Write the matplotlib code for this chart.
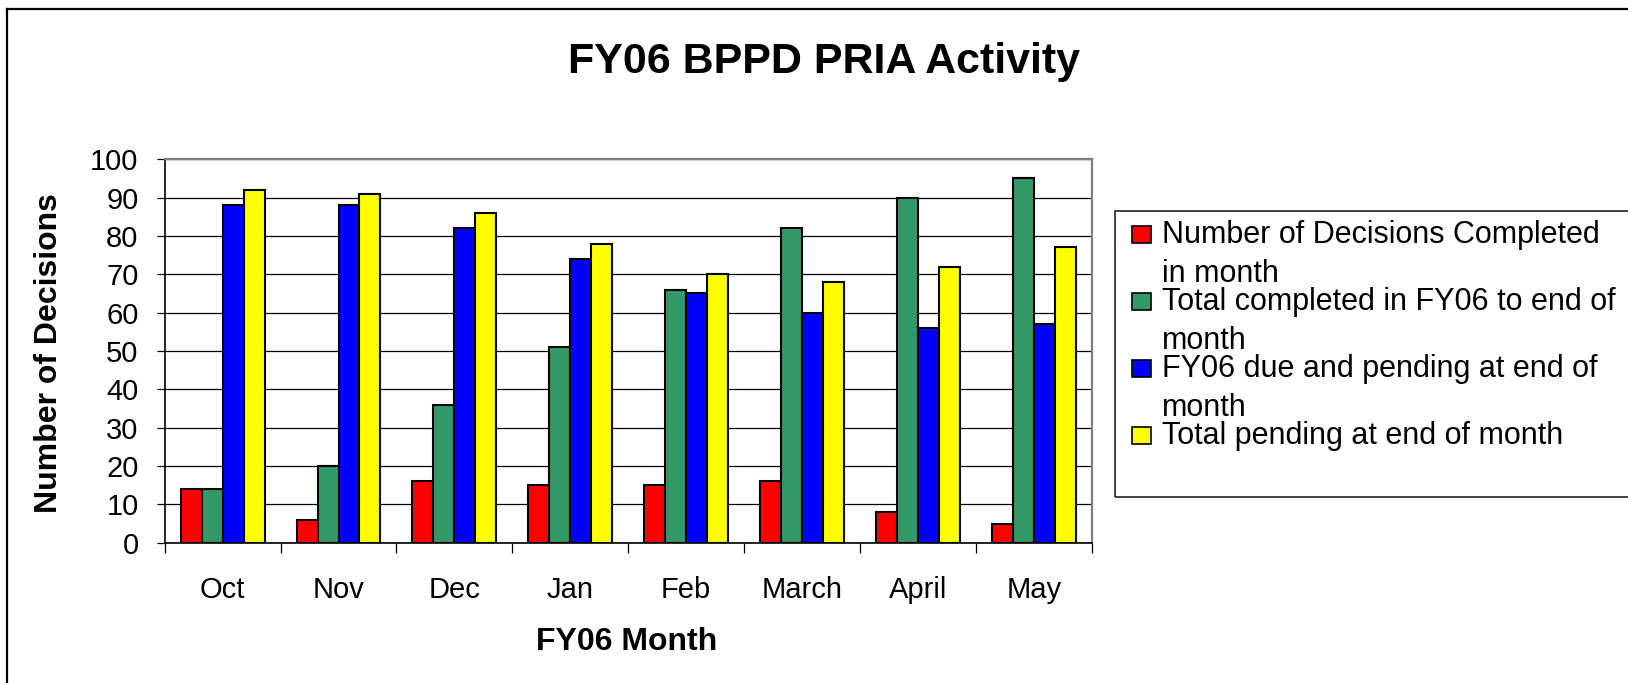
import matplotlib
matplotlib.use("Agg")
import matplotlib.pyplot as plt
from matplotlib.patches import Rectangle
from matplotlib.lines import Line2D
import numpy as np

plt.rcParams['font.family'] = ['Liberation Sans', 'DejaVu Sans']

months = ["Oct", "Nov", "Dec", "Jan", "Feb", "March", "April", "May"]
completed_in_month = [14, 6, 16, 15, 15, 16, 8, 5]
total_completed = [14, 20, 36, 51, 66, 82, 90, 95]
fy06_due_pending = [88, 88, 82, 74, 65, 60, 56, 57]
total_pending = [92, 91, 86, 78, 70, 68, 72, 77]

series_names = ["Number of Decisions Completed\nin month",
                "Total completed in FY06 to end of\nmonth",
                "FY06 due and pending at end of\nmonth",
                "Total pending at end of month"]
series_colors = ["#FF0000", "#339966", "#0000FF", "#FFFF00"]
series_values = [completed_in_month, total_completed, fy06_due_pending, total_pending]

W, H = 1628, 683
fig = plt.figure(figsize=(W / 100, H / 100), dpi=100)

def fx(x):
    return x / W

def fy(y):
    return 1 - y / H

# outer frame
fig.add_artist(Line2D([fx(7), fx(W + 5)], [fy(9), fy(9)], transform=fig.transFigure, color='black', lw=1.6))
fig.add_artist(Line2D([fx(7), fx(7)], [fy(9), fy(H + 5)], transform=fig.transFigure, color='black', lw=1.6))

left, right, top, bottom = 164.7, 1091.7, 159.3, 542.7
ax = fig.add_axes([fx(left), fy(bottom), fx(right - left), (bottom - top) / H])

x = np.arange(len(months))
w = 0.181
offsets = [-1.5, -0.5, 0.5, 1.5]
for vals, col, off, name in zip(series_values, series_colors, offsets, series_names):
    ax.bar(x + off * w, vals, width=w, color=col, edgecolor='black', linewidth=1.5, zorder=3, label=name)

ax.set_xlim(-0.5, len(months) - 0.5)
ax.set_ylim(0, 100)
ax.set_yticks(np.arange(0, 101, 10))
ax.yaxis.grid(True, color='black', lw=0.9)
ax.set_axisbelow(True)

ax.set_xticks(np.arange(-0.5, len(months), 1.0))
ax.set_xticklabels([])
ax.set_xticks(x, minor=True)
ax.set_xticklabels(months, minor=True, fontsize=21)
ax.tick_params(axis='x', which='major', direction='out', length=7, width=0.9, color='black')
ax.tick_params(axis='x', which='minor', length=0, pad=24)
ax.tick_params(axis='y', direction='out', length=5.8, width=0.9, pad=13, labelsize=21)

for s in ['left', 'bottom']:
    ax.spines[s].set_color('black')
    ax.spines[s].set_linewidth(1.2)
for s in ['top', 'right']:
    ax.spines[s].set_color('#808080')
    ax.spines[s].set_linewidth(1.6)

fig.text(0.506, fy(62), "FY06 BPPD PRIA Activity", fontsize=31, fontweight='bold', ha='center', va='center')
fig.text(fx(49), fy(353), "Number of Decisions", fontsize=23, fontweight='bold', rotation=90, ha='center', va='center')
fig.text(fx(627), fy(642), "FY06 Month", fontsize=23, fontweight='bold', ha='center', va='center')

# legend
fig.add_artist(Rectangle((fx(1115), fy(497)), fx(1700 - 1115), (497 - 211) / H, transform=fig.transFigure,
                         fill=False, edgecolor='#333333', lw=1.3))
base0, step, line_gap = 243.3, 67.0, 38.3
for i, (name, col) in enumerate(zip(series_names, series_colors)):
    b = base0 + i * step
    fig.add_artist(Rectangle((fx(1132), fy(b)), fx(19), 17 / H, transform=fig.transFigure,
                             facecolor=col, edgecolor='black', lw=1.2))
    for j, line in enumerate(name.split("\n")):
        fig.text(fx(1161.7), fy(b + j * line_gap), line, fontsize=22, ha='left', va='baseline')

fig.savefig("out.png", dpi=100, facecolor='white')
